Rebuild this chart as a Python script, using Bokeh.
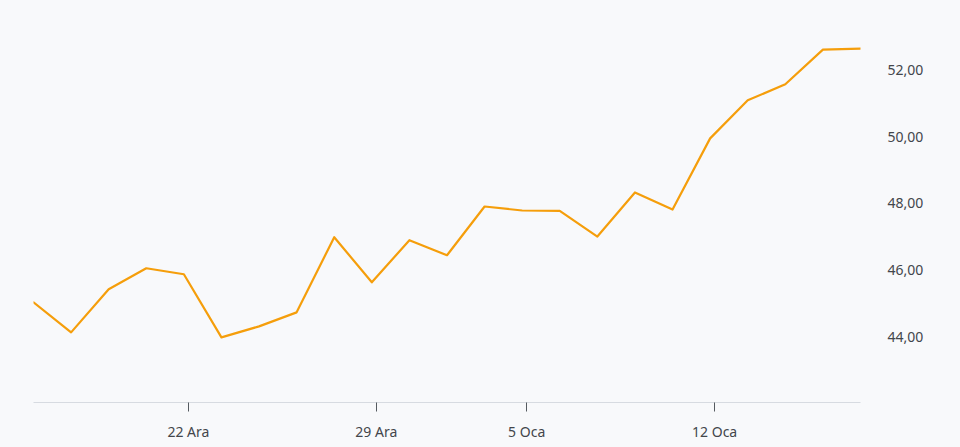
from bokeh.plotting import figure
from bokeh.models import Range1d, FixedTicker, CustomJSTickFormatter, ColumnDataSource
from bokeh.embed import file_html
from bokeh.resources import INLINE

# Trading days (Dec 16 .. Jan 16)
dates = ["16 Ara", "17 Ara", "18 Ara", "19 Ara", "22 Ara", "23 Ara", "24 Ara", "25 Ara",
         "26 Ara", "29 Ara", "30 Ara", "31 Ara", "2 Oca", "5 Oca", "6 Oca", "7 Oca",
         "8 Oca", "9 Oca", "12 Oca", "13 Oca", "14 Oca", "15 Oca", "16 Oca"]
prices = [45.04, 44.14, 45.43, 46.06, 45.88, 43.99, 44.32, 44.74, 46.99, 45.64,
          46.90, 46.45, 47.91, 47.79, 47.78, 47.01, 48.33, 47.82, 49.95, 51.09,
          51.57, 52.61, 52.64]
x_tick_labels = ["22 Ara", "29 Ara", "5 Oca", "12 Oca"]
y_ticks = [44, 46, 48, 50, 52]

idx = list(range(len(dates)))
src = ColumnDataSource(dict(x=idx, y=prices))

BG = "#f8f9fb"
TXT = "#43464b"
FONT = "Noto Sans"

p = figure(output_backend="svg", toolbar_location=None,
           frame_width=827, frame_height=394,
           x_range=Range1d(0, len(dates) - 1), y_range=Range1d(42.04, 53.84),
           y_axis_location="right",
           background_fill_color=BG, border_fill_color=BG,
           min_border_left=33, min_border_top=8, min_border_bottom=0, min_border_right=10)
p.outline_line_color = None
p.xgrid.visible = False
p.ygrid.visible = False

p.line("x", "y", source=src, line_color="#f59e0b", line_width=2.2,
       line_join="round", line_cap="round")

# x axis
tick_off = 0.12
xt = [dates.index(l) + tick_off for l in x_tick_labels]
xa = p.xaxis[0]
xa.ticker = FixedTicker(ticks=xt)
xa.major_label_overrides = {t: l for t, l in zip(xt, x_tick_labels)}
xa.axis_line_color = "#d7dbe1"
xa.axis_line_width = 1
xa.major_tick_line_color = "#555a60"
xa.major_tick_out = 9
xa.major_tick_in = 0
xa.minor_tick_line_color = None
xa.major_label_standoff = 10
xa.major_label_text_font = FONT
xa.major_label_text_font_size = "14px"
xa.major_label_text_color = TXT

# y axis (right)
ya = p.yaxis[0]
ya.ticker = FixedTicker(ticks=y_ticks)
ya.formatter = CustomJSTickFormatter(code="return tick.toFixed(2).replace('.', ',');")
ya.axis_line_color = None
ya.major_tick_line_color = None
ya.minor_tick_line_color = None
ya.major_tick_out = 0
ya.major_tick_in = 0
ya.major_label_standoff = 27
ya.major_label_text_font = FONT
ya.major_label_text_font_size = "14px"
ya.major_label_text_color = TXT

html = file_html(p, INLINE)
html = html.replace("<body>", '<body style="background:%s;">' % BG)
open("out.html", "w").write(html)
